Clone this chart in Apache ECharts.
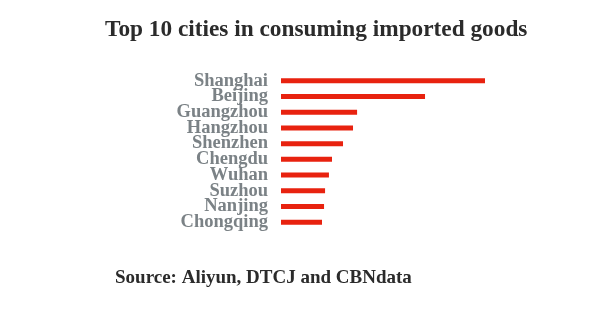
<!DOCTYPE html>
<html><head><meta charset="utf-8">
<script src="https://cdn.jsdelivr.net/npm/echarts@6/dist/echarts.min.js"></script>
<style>html,body{margin:0;padding:0;background:#fff}#c{width:600px;height:311px}</style>
</head><body><div id="c"></div>
<script>
const cities = ["Shanghai","Beijing","Guangzhou","Hangzhou","Shenzhen","Chengdu","Wuhan","Suzhou","Nanjing","Chongqing"];
const values = [100, 70.6, 37.3, 35.3, 30.4, 25, 23.5, 21.6, 21.1, 20.1];
const titleText = "Top 10 cities in consuming imported goods";
const sourceText = "Source: Aliyun, DTCJ and CBNdata";

const chart = echarts.init(document.getElementById('c'));
chart.setOption({
  backgroundColor: '#fff',
  animation: false,
  title: [{
    text: titleText, left: 100, top: 13,
    textStyle: {fontFamily: 'Liberation Serif', fontWeight: 'bold', fontSize: 23.3, color: '#2b2b2b'}
  }, {
    text: sourceText, left: 110, top: 264,
    textStyle: {fontFamily: 'Liberation Serif', fontWeight: 'bold', fontSize: 19, color: '#2b2b2b'}
  }],
  grid: {left: 281, right: 115, top: 73, bottom: 81},
  xAxis: {type: 'value', min: 0, max: 100, show: false},
  yAxis: {
    type: 'category', data: cities, inverse: true,
    axisLine: {show: false}, axisTick: {show: false},
    axisLabel: {interval: 0, margin: 13, fontFamily: 'Liberation Serif', fontWeight: 'bold', fontSize: 18.5, color: '#7b8286'}
  },
  series: [{
    type: 'bar', data: values, barWidth: 5,
    itemStyle: {color: '#e8220f'}
  }]
});
</script></body></html>
